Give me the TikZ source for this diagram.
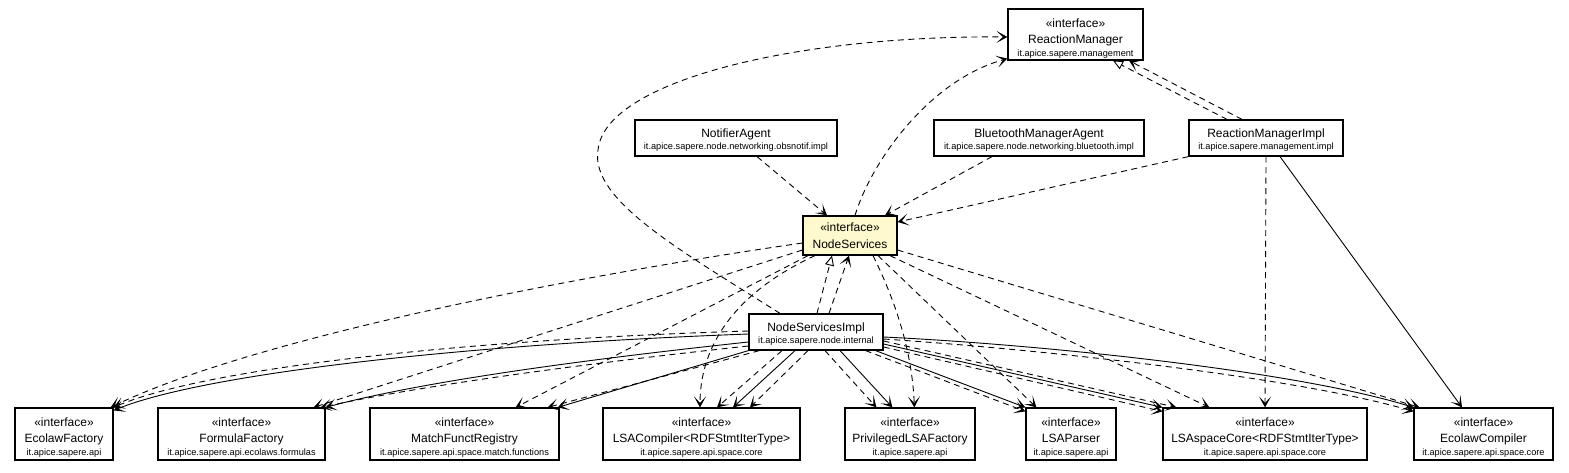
\documentclass[tikz,border=0pt]{standalone}
\usepackage{fontspec}
\setmainfont{Liberation Sans}
\usetikzlibrary{arrows.meta}
\definecolor{nsfill}{RGB}{255,250,205}
\tikzset{
  cls/.style={draw=black, line width=1.2pt, fill=white, inner sep=0pt, rectangle},
  st/.style={font=\fontsize{12}{14}\selectfont, inner sep=0pt, anchor=base},
  nm/.style={font=\fontsize{12}{14}\selectfont, inner sep=0pt, anchor=base},
  pk/.style={font=\fontsize{9.2}{11}\selectfont, inner sep=0pt, anchor=base},
  edgeline/.style={line width=0.9pt},
  dep/.style={edgeline, dash pattern=on 6pt off 4.5pt, -{Stealth[length=11pt,width=12pt,inset=6.5pt]}},
  nav/.style={edgeline, -{Stealth[length=11pt,width=12pt,inset=6.5pt]}},
  real/.style={edgeline, dash pattern=on 6pt off 4.5pt, -{Triangle[open,length=10pt,width=9pt,fill=white]}},
}
% interface box: id, x1, y1, x2, y2, name, package
\newcommand\ibox[7]{%
  \node[cls,minimum width={#4-#2},minimum height={#5-#3}] (#1) at ({(#2+#4)/2},{(#3+#5)/2}) {};
  \node[st] (#1-s) at ({(#2+#4)/2},{#3+18.5}) {«interface»};
  \node[nm] (#1-n) at ({(#2+#4)/2},{#3+34}) {#6};
  \node[pk] (#1-p) at ({(#2+#4)/2},{#3+47.5}) {#7};
}
% class box: id, x1, y1, x2, y2, name, package
\newcommand\cbox[7]{%
  \node[cls,minimum width={#4-#2},minimum height={#5-#3}] (#1) at ({(#2+#4)/2},{(#3+#5)/2}) {};
  \node[nm] (#1-n) at ({(#2+#4)/2},{#3+17.5}) {#6};
  \node[pk] (#1-p) at ({(#2+#4)/2},{#3+29.5}) {#7};
}
\begin{document}
\begin{tikzpicture}[x=1pt,y=-1pt]
\useasboundingbox (0,0) rectangle (1569,472);

% ---- boxes ----
\ibox{RM}{1008}{9}{1143}{60}{ReactionManager}{it.apice.sapere.management}
\cbox{NA}{635}{120}{837}{156}{NotifierAgent}{it.apice.sapere.node.networking.obsnotif.impl}
\cbox{BMA}{934}{120}{1144}{156}{BluetoothManagerAgent}{it.apice.sapere.node.networking.bluetooth.impl}
\cbox{RMI}{1189}{120}{1343}{156}{ReactionManagerImpl}{it.apice.sapere.management.impl}

\node[cls,fill=nsfill,minimum width=94,minimum height=39] (NS) at (850,235.5) {};
\node[st] (NS-s) at (850,231.5) {«interface»};
\node[nm] (NS-n) at (850,248.3) {NodeServices};

\cbox{NSI}{749}{314}{883}{350}{NodeServicesImpl}{it.apice.sapere.node.internal}

\ibox{EF}{15}{408}{113}{460}{EcolawFactory}{it.apice.sapere.api}
\ibox{FF}{158}{408}{325}{460}{FormulaFactory}{it.apice.sapere.api.ecolaws.formulas}
\ibox{MFR}{370}{408}{559}{460}{MatchFunctRegistry}{it.apice.sapere.api.space.match.functions}
\ibox{LC}{603}{408}{800}{460}{LSACompiler<RDFStmtIterType>}{it.apice.sapere.api.space.core}
\ibox{PLF}{845}{408}{975}{460}{PrivilegedLSAFactory}{it.apice.sapere.api}
\ibox{LP}{1026}{408}{1116}{460}{LSAParser}{it.apice.sapere.api}
\ibox{LSC}{1163}{408}{1367}{460}{LSAspaceCore<RDFStmtIterType>}{it.apice.sapere.api.space.core}
\ibox{EC}{1414}{408}{1553}{460}{EcolawCompiler}{it.apice.sapere.api.space.core}

% ---- upper connectors ----
\draw[real] ([xshift=1pt]NSI.north) -- ([xshift=-18pt]NS.south);
\draw[dep] ([xshift=13pt]NSI.north) -- ([xshift=-1pt]NS.south);
\draw[real] ([xshift=-39pt]RMI.north) -- ([xshift=37.5pt]RM.south);
\draw[dep] ([xshift=-24pt]RMI.north) -- ([xshift=53.5pt]RM.south);
\draw[dep] ([xshift=-36pt]NSI.north) .. controls (680,250) and (590,200) .. (598,150)
           .. controls (605,80) and (800,35) .. ([yshift=-2.5pt]RM.west);
\draw[dep] ([xshift=5pt]NS.north) .. controls (872,160) and (930,80) .. ([yshift=2pt]RM.south west);
\draw[dep] ([xshift=21pt]NA.south) -- ([xshift=-23pt]NS.north);
\draw[dep] ([xshift=-47pt]BMA.south) -- ([xshift=35pt]NS.north);
\draw[dep] (RMI.south west) -- ([yshift=13.5pt]NS.east);
\draw[dep] (RMI.south) -- (LSC.north);
\draw[nav] ([xshift=14pt]RMI.south) -- ([xshift=-21.5pt]EC.north);

% ---- NodeServices to the interfaces ----
\draw[dep] ([yshift=-7.5pt]NS.west) .. controls (600,272) and (260,335) .. ([xshift=-3pt]EF.north east);
\draw[dep] ([yshift=-14.5pt]NS.west) -- ([xshift=-12pt]FF.north east);
\draw[dep] ([xshift=-42pt]NS.south) -- ([xshift=-44pt]MFR.north east);
\draw[dep] ([xshift=-35pt]NS.south) .. controls (730,295) and (700,350) .. ([xshift=-1.5pt]LC.north);
\draw[dep] ([xshift=23pt]NS.south) .. controls (895,300) and (912,350) .. ([xshift=70pt]PLF.north west);
\draw[dep] ([xshift=28pt]NS.south) -- ([xshift=11pt]LP.north west);
\draw[dep] ([xshift=40pt]NS.south) -- ([xshift=47pt]LSC.north west);
\draw[dep] ([yshift=-14.5pt]NS.east) -- ([xshift=6pt]EC.north west);

% ---- NodeServicesImpl to the interfaces ----
\draw[nav] ([yshift=-2pt]NSI.west) .. controls (450,345) and (200,375) .. ([yshift=-3pt]EF.north east);
\draw[dep] ([yshift=1pt]NSI.west) .. controls (450,340) and (200,370) .. (EF.north east);
\draw[nav] ([yshift=-10pt]NSI.west) .. controls (580,360) and (420,382) .. (FF.north east);
\draw[dep] ([yshift=-14pt]NSI.west) .. controls (580,364) and (420,386) .. ([xshift=-5pt]FF.north east);
\draw[nav] (NSI.south west) -- ([xshift=-2pt]MFR.north east);
\draw[dep] ([xshift=11pt]NSI.south west) -- ([xshift=-12pt]MFR.north east);
\draw[dep] ([xshift=-34pt]NSI.south) -- ([xshift=15.5pt]LC.north);
\draw[nav] ([xshift=-21pt]NSI.south) -- ([xshift=31.5pt]LC.north);
\draw[dep] ([xshift=-8pt]NSI.south) -- ([xshift=48.5pt]LC.north);
\draw[dep] ([xshift=9pt]NSI.south) -- ([xshift=32pt]PLF.north west);
\draw[nav] ([xshift=24pt]NSI.south) -- ([xshift=48pt]PLF.north west);
\draw[nav] ([xshift=-8pt]NSI.south east) -- (LP.north west);
\draw[dep] ([xshift=-18pt]NSI.south east) -- ([yshift=-4pt]LP.north west);
\draw[nav] ([yshift=-12pt]NSI.east) -- (LSC.north west);
\draw[dep] ([yshift=-15pt]NSI.east) -- ([yshift=-4pt]LSC.north west);
\draw[dep] ([yshift=-9pt]NSI.east) -- ([xshift=14pt]LSC.north west);
\draw[nav] ([yshift=-5pt]NSI.east) .. controls (1050,345) and (1300,372) .. (EC.north west);
\draw[dep] ([yshift=-7pt]NSI.east) .. controls (1050,350) and (1300,378) .. ([yshift=-4pt]EC.north west);
\end{tikzpicture}
\end{document}
